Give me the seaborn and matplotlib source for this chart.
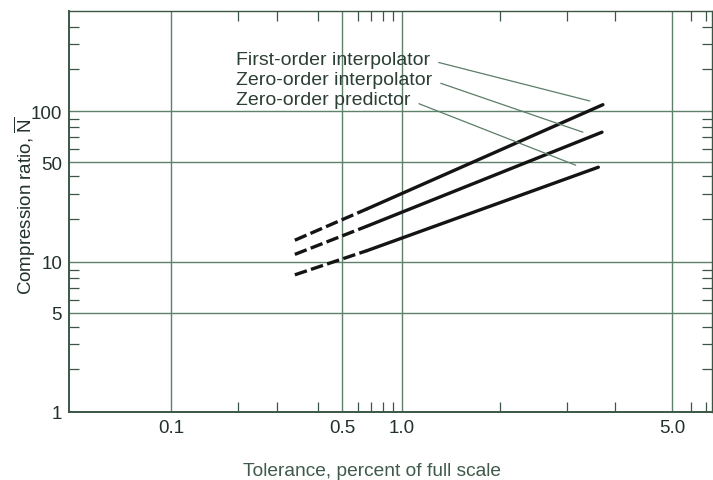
import numpy as np
import pandas as pd
import matplotlib
matplotlib.use("Agg")
import matplotlib.pyplot as plt
import seaborn as sns

# ---- data: compression ratio vs. tolerance for three redundancy-reduction schemes
methods = ["First-order interpolator", "Zero-order interpolator", "Zero-order predictor"]
tol_start = [0.34, 0.34, 0.34]      # start of extrapolated (dashed) part
tol_knee = [0.667, 0.667, 0.667]    # start of measured (solid) part
tol_end = [3.72, 3.70, 3.62]
ratio_start = [14.2, 11.3, 8.4]
ratio_knee = [23.5, 17.8, 12.0]
ratio_end = [111.0, 75.0, 46.0]

# points where each label's leader line touches its curve
leader_tol = [3.44, 3.30, 3.16]
leader_ratio = [118.0, 75.0, 47.5]

x_major = [0.1, 0.5, 1.0, 5.0]
x_major_labels = ["0.1", "0.5", "1.0", "5.0"]
x_minor = [0.2, 0.3, 0.4, 0.6, 0.7, 0.8, 0.9, 2.0, 3.0, 4.0, 6.0, 7.0]
y_major = [1, 5, 10, 50, 100]
y_major_labels = ["1", "5", "10", "50", "100"]
y_minor = [2, 3, 4, 6, 7, 8, 9, 20, 30, 40, 60, 70, 80, 90, 200, 300, 400]

# ruling of the log paper: value -> fraction of axis length
x_cal_vals = [0.035, 0.1, 0.2, 0.3, 0.4, 0.5, 1.0, 2.0, 3.0, 4.0, 5.0, 7.4]
x_cal_pos = [0.0, 0.1586, 0.2628, 0.3235, 0.3872, 0.4246, 0.5179, 0.6703, 0.7745, 0.8491, 0.9378, 1.0]
y_cal_vals = [1.0, 5.0, 10.0, 50.0, 100.0, 520.0]
y_cal_pos = [0.0, 0.2469, 0.3741, 0.6234, 0.7506, 1.0]


def paper_scale(vals, pos):
    lv = np.log10(np.asarray(vals, float))
    p = np.asarray(pos, float)
    s_lo = (p[1] - p[0]) / (lv[1] - lv[0])
    s_hi = (p[-1] - p[-2]) / (lv[-1] - lv[-2])

    def forward(x):
        lx = np.log10(np.clip(np.asarray(x, float), 1e-12, None))
        out = np.interp(lx, lv, p)
        out = np.where(lx < lv[0], p[0] + (lx - lv[0]) * s_lo, out)
        out = np.where(lx > lv[-1], p[-1] + (lx - lv[-1]) * s_hi, out)
        return out

    def inverse(y):
        y = np.asarray(y, float)
        lx = np.interp(y, p, lv)
        lx = np.where(y < p[0], lv[0] + (y - p[0]) / s_lo, lx)
        lx = np.where(y > p[-1], lv[-1] + (y - p[-1]) / s_hi, lx)
        return 10.0 ** lx

    return forward, inverse


rows = []
for i, m in enumerate(methods):
    rows.append((m, "extrapolated", tol_start[i], ratio_start[i]))
    rows.append((m, "extrapolated", tol_knee[i], ratio_knee[i]))
    rows.append((m, "measured", tol_knee[i], ratio_knee[i]))
    rows.append((m, "measured", tol_end[i], ratio_end[i]))
df = pd.DataFrame(rows, columns=["method", "segment", "tolerance", "ratio"])

sns.set_theme(style="white")
plt.rcParams["font.family"] = ["Liberation Sans", "DejaVu Sans"]
plt.rcParams["mathtext.fontset"] = "custom"
plt.rcParams["mathtext.rm"] = "Liberation Sans"

GRID = "#5f806b"
SPINE = "#3b5646"
INK = "#22322a"
LEAD = "#5c7d67"

fig = plt.figure(figsize=(7.13, 4.81), dpi=100)
ax = fig.add_axes([0.0968, 0.1414, 0.9018, 0.8336])

ax.set_xscale("function", functions=paper_scale(x_cal_vals, x_cal_pos))
ax.set_yscale("function", functions=paper_scale(y_cal_vals, y_cal_pos))

sns.lineplot(
    data=df, x="tolerance", y="ratio", hue="method", style="segment",
    palette={m: "#141414" for m in methods},
    dashes={"extrapolated": (3.8, 1.3), "measured": ""},
    estimator=None, sort=False, legend=False, linewidth=2.4,
    solid_capstyle="round", dash_capstyle="butt", ax=ax, zorder=3,
)

ax.set_xlim(x_cal_vals[0], x_cal_vals[-1])
ax.set_ylim(y_cal_vals[0], y_cal_vals[-1])

ax.set_xticks(x_major, x_major_labels)
ax.set_xticks(x_minor, minor=True)
ax.set_yticks(y_major, y_major_labels)
ax.set_yticks(y_minor, minor=True)

ax.grid(which="major", color=GRID, linewidth=1.0)
ax.grid(which="minor", visible=False)
ax.tick_params(which="major", length=0, pad=5, labelsize=13.5, labelcolor=INK)
ax.tick_params(which="minor", direction="in", length=7.5, width=0.9, color=SPINE,
               top=True, right=True, bottom=True, left=True)

for side, spine in ax.spines.items():
    spine.set_visible(True)
    spine.set_color(SPINE)
    spine.set_linewidth(1.4 if side in ("left", "bottom") else 1.0)

ax.set_xlabel("Tolerance, percent of full scale", fontsize=13.8, color="#3f5a4b")
ax.xaxis.label.set_va("center")
ax.xaxis.set_label_coords(0.471, -0.147)
ax.set_ylabel(r"Compression ratio, $\overline{\mathrm{N}}$", fontsize=13.5, color=INK)
ax.yaxis.label.set_va("center")
ax.yaxis.set_label_coords(-0.0684, 0.517)

label_y = [0.868, 0.818, 0.768]
for i, m in enumerate(methods):
    ax.annotate(
        m, xy=(leader_tol[i], leader_ratio[i]), xycoords="data",
        xytext=(0.2597, label_y[i]), textcoords="axes fraction",
        ha="left", va="baseline", fontsize=14, color="#2c3f35",
        arrowprops=dict(arrowstyle="-", color=LEAD, lw=0.9, relpos=(1.0, 0.45),
                        shrinkA=4, shrinkB=0),
        zorder=4,
    )

fig.savefig("out.png", dpi=100)
